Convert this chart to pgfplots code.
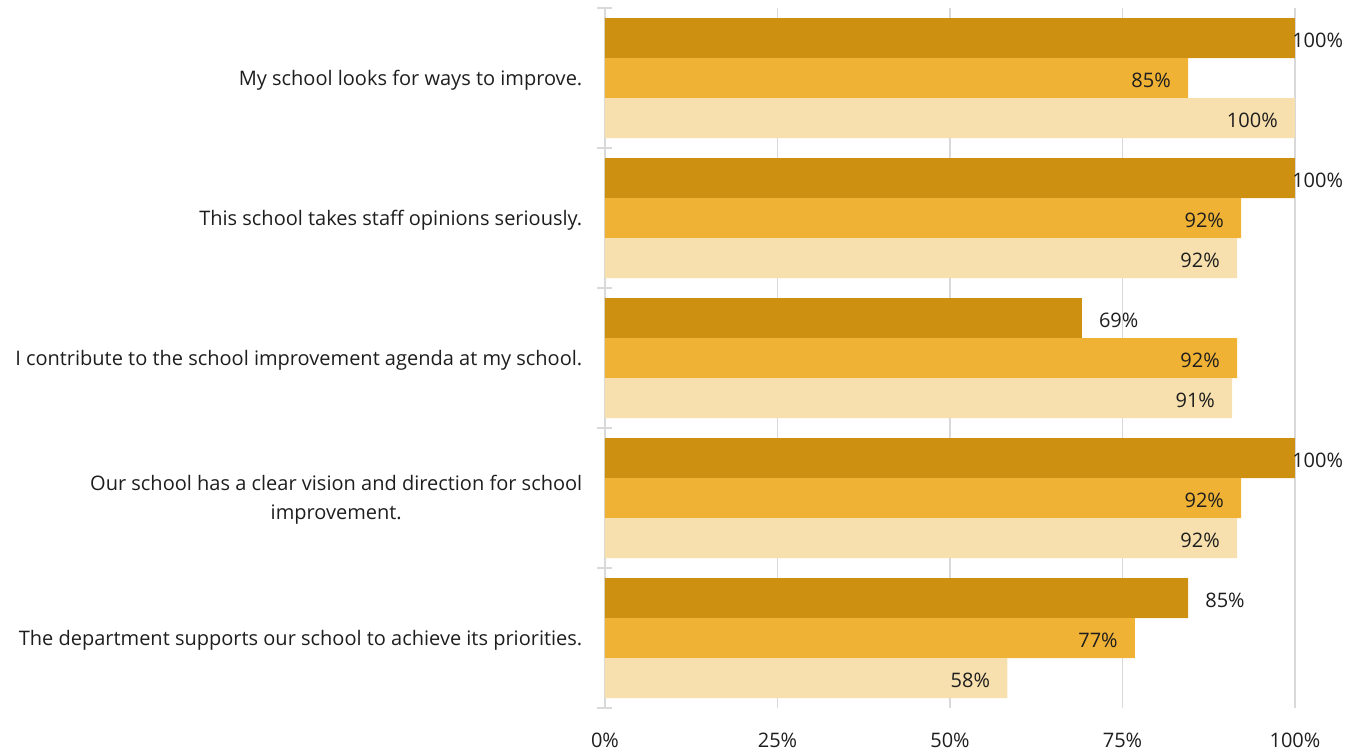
\documentclass[border=0pt]{standalone}
\usepackage{fontspec}
\setmainfont{Open Sans}
\usepackage{pgfplots}
\pgfplotsset{compat=1.18}
\usepackage{pgfplotstable}
\definecolor{cA}{RGB}{205,144,17}
\definecolor{cB}{RGB}{240,178,53}
\definecolor{cC}{RGB}{248,224,174}
\definecolor{gridc}{RGB}{217,217,217}
\definecolor{txt}{RGB}{30,30,30}
% dark series, bars that end at 100%
\pgfplotstableread{
y x lab
0 100 100
1 100 100
3 100 100
}\dataAfull
% dark series, other bars
\pgfplotstableread{
y x lab
2 69.1 69
4 84.5 85
}\dataA
\pgfplotstableread{
y x lab
0 84.5 85
1 92.2 92
2 91.6 92
3 92.2 92
4 76.8 77
}\dataB
\pgfplotstableread{
y x lab
0 100 100
1 91.6 92
2 90.9 91
3 91.6 92
4 58.3 58
}\dataC
\begin{document}
\begin{tikzpicture}
\useasboundingbox (-453.75pt,-33pt) rectangle (564pt,531pt);
\begin{axis}[
  at={(0,0)}, anchor=south west,
  scale only axis, width=517.5pt, height=525pt,
  xbar, bar width=0.2857,
  xmin=0, xmax=100, ymin=-0.5, ymax=4.5, y dir=reverse,
  enlargelimits=false,
  xtick={0,25,50,75,100}, xticklabels={0\%,25\%,50\%,75\%,100\%},
  ytick={0,1,2,3,4},
  yticklabels={My school looks for ways to improve.,
    This school takes staff opinions seriously.,
    I contribute to the school improvement agenda at my school.,
    {Our school has a clear vision and direction for school\\improvement.},
    The department supports our school to achieve its priorities.},
  minor ytick={-0.5,0.5,1.5,2.5,3.5,4.5},
  major tick length=0pt, minor tick length=11.25pt, tick align=center,
  tick style={gridc, line width=1.2pt},
  xmajorgrids, major x grid style={gridc, line width=1.2pt},
  axis x line*=bottom, axis y line*=left,
  x axis line style={draw=none},
  y axis line style={gridc, line width=1.2pt, -},
  tick label style={font=\fontsize{15}{21.75}\selectfont, text=txt},
  yticklabel style={align=center, xshift=-13.5pt, yshift=-1.5pt},
  xticklabel style={yshift=-15pt},
  nodes near coords style={font=\fontsize{15}{21.75}\selectfont, text=txt},
]
\addplot[fill=cA, draw=none, bar shift=-0.2857,
  point meta=explicit symbolic,
  nodes near coords={\pgfplotspointmeta\%},
  nodes near coords style={anchor=west, inner sep=0pt, xshift=-2.25pt, yshift=-1.5pt}]
  table[x=x, y=y, meta=lab]{\dataAfull};
\addplot[fill=cA, draw=none, bar shift=-0.2857,
  point meta=explicit symbolic,
  nodes near coords={\pgfplotspointmeta\%},
  nodes near coords style={anchor=west, inner sep=0pt, xshift=12.75pt, yshift=-1.5pt}]
  table[x=x, y=y, meta=lab]{\dataA};
\addplot[fill=cB, draw=none, bar shift=0,
  point meta=explicit symbolic,
  nodes near coords={\pgfplotspointmeta\%},
  nodes near coords style={anchor=east, inner sep=0pt, xshift=-12.75pt, yshift=-1.5pt}]
  table[x=x, y=y, meta=lab]{\dataB};
\addplot[fill=cC, draw=none, bar shift=0.2857,
  point meta=explicit symbolic,
  nodes near coords={\pgfplotspointmeta\%},
  nodes near coords style={anchor=east, inner sep=0pt, xshift=-12.75pt, yshift=-1.5pt}]
  table[x=x, y=y, meta=lab]{\dataC};
\end{axis}
\end{tikzpicture}
\end{document}
